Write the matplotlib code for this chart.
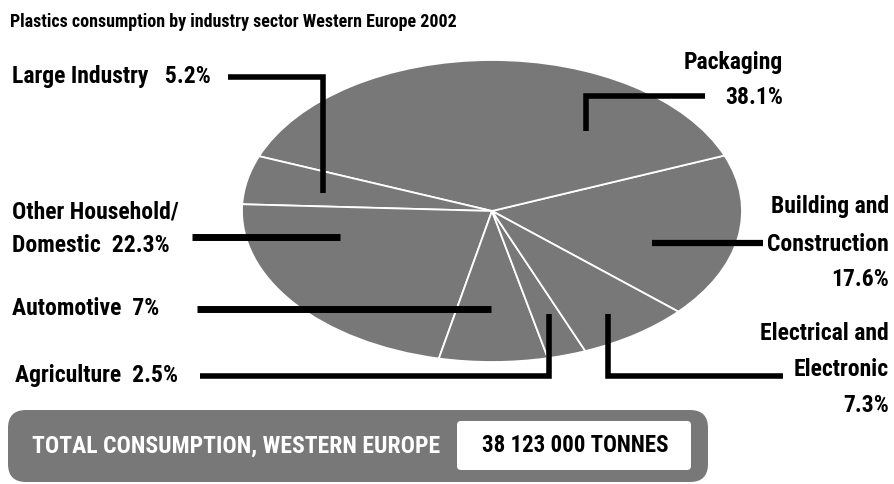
import matplotlib
matplotlib.use('Agg')
import matplotlib.pyplot as plt
from matplotlib.patches import FancyBboxPatch

plt.rcParams['font.family'] = ['Roboto Condensed', 'IBM Plex Sans Condensed', 'DejaVu Sans']
plt.rcParams['font.weight'] = 'bold'

# 西欧 2002 年各行业塑料消费占比
sectors = ['Building and Construction', 'Packaging', 'Large Industry',
           'Other Household/Domestic', 'Automotive', 'Agriculture',
           'Electrical and Electronic']
shares = [17.6, 38.1, 5.2, 22.3, 7.0, 2.5, 7.3]
share_labels = ['17.6%', '38.1%', '5.2%', '22.3%', '7%', '2.5%', '7.3%']

title = 'Plastics consumption by industry sector Western Europe 2002'
total_label = 'TOTAL CONSUMPTION, WESTERN EUROPE'
total_value = '38 123 000 TONNES'

W, H = 895, 485
GREY = '#787878'

fig = plt.figure(figsize=(W / 100, H / 100), dpi=100)

# 椭圆饼图: 轴不等比例, 圆被拉成椭圆
px, py, pw, ph = 242, 61, 500, 302
ax_pie = fig.add_axes([px / W, 1 - (py + ph) / H, pw / W, ph / H])
ax_pie.pie(shares, startangle=-41.8, counterclock=True, colors=[GREY] * len(shares),
           wedgeprops={'edgecolor': 'white', 'linewidth': 1.3})
ax_pie.set_aspect('auto')
ax_pie.set_xlim(-1, 1)
ax_pie.set_ylim(-1, 1)
ax_pie.axis('off')

# 覆盖层: 像素坐标, 用于引线和文字
ax = fig.add_axes([0, 0, 1, 1], zorder=2)
ax.set_xlim(0, W)
ax.set_ylim(H, 0)
ax.axis('off')
ax.patch.set_alpha(0)

ax.text(10, 22, title, fontsize=13, va='center', ha='left')

# 引线 (x 列表, y 列表, 线宽)
leaders = [
    ([228, 323, 323], [78, 78, 194], 4),          # Large Industry
    ([586, 586, 705], [132, 97, 97], 4),          # Packaging
    ([652, 763], [244, 244], 4.5),                # Building
    ([608, 608, 783], [315, 377, 377], 4),        # Electrical
    ([200, 549, 549], [377, 377, 315], 4),        # Agriculture
    ([197, 491], [310, 310], 5),                  # Automotive
    ([192, 340], [238, 238], 5),                  # Other Household
]
for xs, ys, lw in leaders:
    ax.plot(xs, ys, color='black', lw=lw, solid_capstyle='butt', solid_joinstyle='miter')

fs = 17
ax.text(12, 77, 'Large Industry   ' + share_labels[2], fontsize=fs, va='center')
ax.text(12, 212, 'Other Household/', fontsize=fs, va='center')
ax.text(12, 246, 'Domestic  ' + share_labels[3], fontsize=fs, va='center')
ax.text(12, 309, 'Automotive  ' + share_labels[4], fontsize=fs, va='center')
ax.text(15, 376, 'Agriculture  ' + share_labels[5], fontsize=fs, va='center')

ax.text(783, 62, 'Packaging', fontsize=fs, va='center', ha='right')
ax.text(783, 97, share_labels[1], fontsize=fs, va='center', ha='right')
ax.text(889, 207, 'Building and', fontsize=fs, va='center', ha='right')
ax.text(889, 245, 'Construction', fontsize=fs, va='center', ha='right')
ax.text(889, 280, share_labels[0], fontsize=fs, va='center', ha='right')
ax.text(889, 334, 'Electrical and', fontsize=fs, va='center', ha='right')
ax.text(889, 370, 'Electronic', fontsize=fs, va='center', ha='right')
ax.text(889, 406, share_labels[6], fontsize=fs, va='center', ha='right')

# 底部总量条
bar = FancyBboxPatch((8 + 18, 411 + 18), 700 - 36, 72 - 36,
                     boxstyle='round,pad=18', facecolor=GREY, edgecolor='none')
ax.add_patch(bar)
box = FancyBboxPatch((457, 422), 234, 49, boxstyle='round,pad=0,rounding_size=4',
                     facecolor='white', edgecolor='none')
ax.add_patch(box)
ax.text(32, 446, total_label, fontsize=17, color='white', va='center', ha='left')
ax.text(575, 446, total_value, fontsize=16.5, color='black', va='center', ha='center')

fig.savefig('out.png', dpi=100)
